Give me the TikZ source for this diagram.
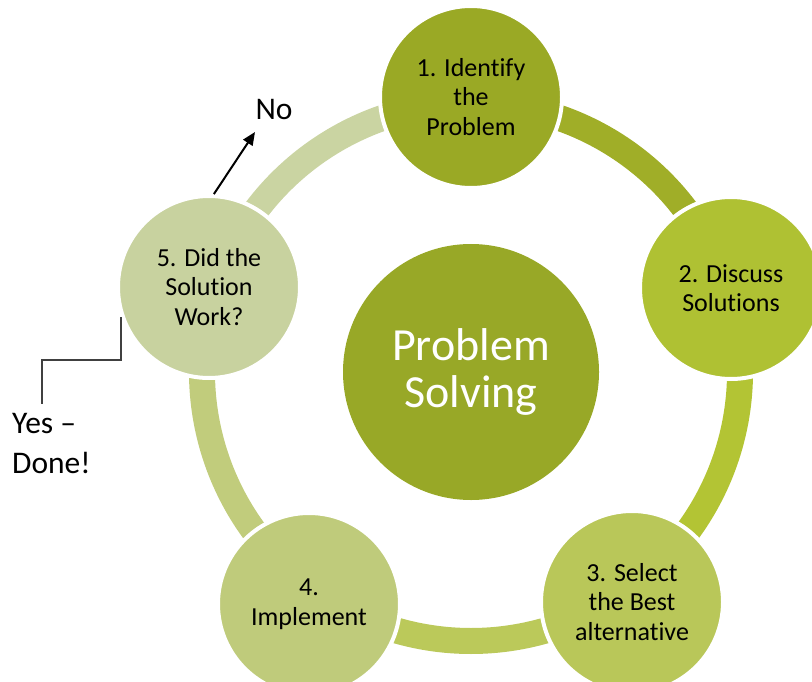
\documentclass[tikz,border=0pt]{standalone}
\usepackage{fontspec}
\setmainfont{Carlito}[Ligatures={TeX,NoCommon}]
\usetikzlibrary{arrows.meta}
\definecolor{cc}{HTML}{98A827}
\definecolor{c1}{HTML}{9AA925}
\definecolor{c2}{HTML}{AFC133}
\definecolor{c3}{HTML}{B9C759}
\definecolor{c4}{HTML}{BFCB7B}
\definecolor{c5}{HTML}{C8D29F}
\definecolor{s1}{HTML}{A0AE28}
\definecolor{s2}{HTML}{B3C434}
\definecolor{s3}{HTML}{BBC95A}
\definecolor{s4}{HTML}{C1CC7C}
\definecolor{s5}{HTML}{CAD4A2}
\begin{document}
\begin{tikzpicture}[x=1bp,y=-1bp,
  stage/.style={circle, minimum size=182bp, inner sep=0pt, draw=white, line width=4bp,
    align=center, text=black, font=\fontsize{26bp}{29.5bp}\selectfont},
  seg/.style={line width=26bp},
  lbl/.style={text=black, font=\fontsize{31.5bp}{40bp}\selectfont}]
\useasboundingbox (0,0) rectangle (812,682);
\coordinate (O) at (471,372);
% ring segments
\draw[seg, s1] (O) ++(-90:269) arc[start angle=-90, end angle=-18, radius=269];
\draw[seg, s2] (O) ++(-18:269) arc[start angle=-18, end angle=54, radius=269];
\draw[seg, s3] (O) ++(54:269) arc[start angle=54, end angle=126, radius=269];
\draw[seg, s4] (O) ++(126:269) arc[start angle=126, end angle=198, radius=269];
\draw[seg, s5] (O) ++(198:269) arc[start angle=198, end angle=270, radius=269];
% stages
\node[stage, fill=c1] (n1) at (471,97) {1. Identify\\the\\Problem};
\node[stage, fill=c2] (n2) at (731,288) {2. Discuss\\Solutions};
\node[stage, fill=c3] (n3) at (632,602) {3. Select\\the Best\\alternative};
\node[stage, fill=c4] (n4) at (309,604) {4.\\Implement};
\node[stage, fill=c5] (n5) at (209,287) {5. Did the\\Solution\\Work?};
% centre
\node[circle, minimum size=256bp, inner sep=0pt, fill=cc, text=white, align=center,
  font=\fontsize{46bp}{47bp}\selectfont] (core) at (471,372) {Problem\\Solving};
% No branch
\node[lbl] (no) at (274,110) {No};
\coordinate (noTip) at (255,132);
\draw[line width=2bp, -{Triangle[length=13bp,width=11bp]}] (n5.87) -- (noTip);
% Yes branch
\node[lbl, anchor=base west, align=left, inner sep=0pt] (yes) at (12,473) {Yes –\\Done!};
\coordinate (yEnd) at (42,404);
\draw[line width=1.5bp, draw=black!75] (n5.199) |- (42,360) -- (yEnd);
\end{tikzpicture}
\end{document}
